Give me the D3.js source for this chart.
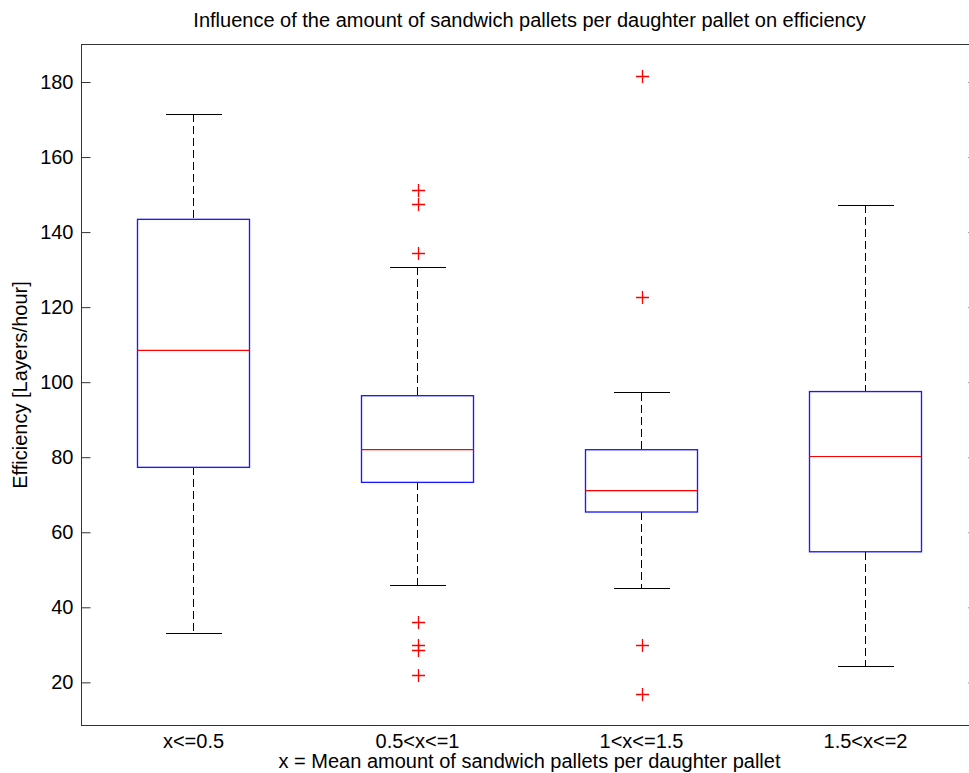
<!DOCTYPE html>
<html>
<head>
<meta charset="utf-8">
<script src="https://cdn.jsdelivr.net/npm/d3@7"></script>
<style>
  body { margin: 0; background: #fff; }
  svg { display: block; font-family: "Liberation Sans", Arial, sans-serif; }
</style>
</head>
<body>
<div class="chart"></div>
<script>
const categories = ['x<=0.5', '0.5<x<=1', '1<x<=1.5', '1.5<x<=2'];
const whiskerLow = [33.1, 45.9, 45.1, 24.3];
const q1 = [77.3, 73.3, 65.4, 54.8];
const medians = [108.5, 82.0, 71.1, 80.2];
const q3 = [143.4, 96.4, 82.0, 97.5];
const whiskerHigh = [171.4, 130.6, 97.2, 147.1];
const outliers = [
  [],
  [151.1, 147.6, 134.4, 36.2, 29.9, 28.5, 21.9],
  [181.7, 122.6, 29.9, 16.8],
  []
];
const yTicks = [20, 40, 60, 80, 100, 120, 140, 160, 180];

const width = 969;
const height = 773;
const fontSize = '20px';

const svg = d3
  .select('.chart')
  .append('svg')
  .attr('width', width)
  .attr('height', height);

const x = d3.scaleLinear().domain([0.5, 4.5]).range([81.5, 977.5]);
const y = d3.scaleLinear().domain([8.5, 190]).range([725.5, 44.5]);

const boxes = categories.map((c, i) => ({
  name: c,
  pos: i + 1,
  lo: whiskerLow[i],
  q1: q1[i],
  med: medians[i],
  q3: q3[i],
  hi: whiskerHigh[i],
  out: outliers[i]
}));

const boxHalf = 0.25;
const capHalf = 0.125;

// axes frame
svg
  .append('rect')
  .attr('x', x(0.5))
  .attr('y', y(190))
  .attr('width', x(4.5) - x(0.5))
  .attr('height', y(8.5) - y(190))
  .attr('fill', 'none')
  .attr('stroke', '#333')
  .attr('shape-rendering', 'crispEdges');

const yAxis = svg
  .append('g')
  .attr('transform', `translate(${x(0.5)},0)`)
  .call(d3.axisLeft(y).tickValues(yTicks).tickSizeInner(-9).tickSizeOuter(0).tickPadding(8));
yAxis.select('.domain').remove();
yAxis.selectAll('line').attr('stroke', '#333');
yAxis
  .selectAll('text')
  .attr('font-size', fontSize)
  .attr('fill', '#000')
  .attr('font-family', '"Liberation Sans", Arial, sans-serif');

const yAxisR = svg
  .append('g')
  .attr('transform', `translate(${x(4.5)},0)`)
  .call(d3.axisRight(y).tickValues(yTicks).tickSizeInner(-9).tickSizeOuter(0).tickFormat(''));
yAxisR.select('.domain').remove();
yAxisR.selectAll('line').attr('stroke', '#333');

const g = svg
  .selectAll('g.box')
  .data(boxes)
  .enter()
  .append('g')
  .attr('class', 'box');

// whiskers
g.append('line')
  .attr('x1', (d) => x(d.pos))
  .attr('x2', (d) => x(d.pos))
  .attr('y1', (d) => y(d.hi))
  .attr('y2', (d) => y(d.q3))
  .attr('stroke', '#000')
  .attr('stroke-dasharray', '8,4')
  .attr('shape-rendering', 'crispEdges');
g.append('line')
  .attr('x1', (d) => x(d.pos))
  .attr('x2', (d) => x(d.pos))
  .attr('y1', (d) => y(d.q1))
  .attr('y2', (d) => y(d.lo))
  .attr('stroke', '#000')
  .attr('stroke-dasharray', '8,4')
  .attr('shape-rendering', 'crispEdges');

// caps
['hi', 'lo'].forEach((k) => {
  g.append('line')
    .attr('x1', (d) => x(d.pos - capHalf))
    .attr('x2', (d) => x(d.pos + capHalf))
    .attr('y1', (d) => y(d[k]))
    .attr('y2', (d) => y(d[k]))
    .attr('stroke', '#000')
    .attr('shape-rendering', 'crispEdges');
});

// boxes
g.append('rect')
  .attr('x', (d) => x(d.pos - boxHalf))
  .attr('width', (d) => x(d.pos + boxHalf) - x(d.pos - boxHalf))
  .attr('y', (d) => y(d.q3))
  .attr('height', (d) => y(d.q1) - y(d.q3))
  .attr('fill', 'none')
  .attr('stroke', '#1a1aff')
  .attr('stroke-width', 1.35);

// medians
g.append('line')
  .attr('x1', (d) => x(d.pos - boxHalf))
  .attr('x2', (d) => x(d.pos + boxHalf))
  .attr('y1', (d) => y(d.med))
  .attr('y2', (d) => y(d.med))
  .attr('stroke', '#ff0000')
  .attr('stroke-width', 1.2);

// outliers
g.selectAll('path.out')
  .data((d) => d.out.map((v) => ({ pos: d.pos, v })))
  .enter()
  .append('path')
  .attr('class', 'out')
  .attr('d', (d) => {
    const cx = Math.round(x(d.pos)) + 0.5;
    const cy = Math.round(y(d.v)) + 0.5;
    return `M${cx - 6.5},${cy}H${cx + 6.5}M${cx},${cy - 6.5}V${cy + 6.5}`;
  })
  .attr('stroke', '#ff0000')
  .attr('stroke-width', 1.3)
  .attr('fill', 'none');

// category labels
svg
  .selectAll('text.cat')
  .data(boxes)
  .enter()
  .append('text')
  .attr('class', 'cat')
  .attr('x', (d) => x(d.pos))
  .attr('y', 748)
  .attr('text-anchor', 'middle')
  .attr('font-size', fontSize)
  .text((d) => d.name);

svg
  .append('text')
  .attr('x', (x(0.5) + x(4.5)) / 2)
  .attr('y', 768)
  .attr('text-anchor', 'middle')
  .attr('font-size', fontSize)
  .text('x = Mean amount of sandwich pallets per daughter pallet');

svg
  .append('text')
  .attr('transform', `translate(27, ${(y(8.5) + y(190)) / 2}) rotate(-90)`)
  .attr('text-anchor', 'middle')
  .attr('font-size', fontSize)
  .text('Efficiency [Layers/hour]');

svg
  .append('text')
  .attr('x', (x(0.5) + x(4.5)) / 2)
  .attr('y', 27)
  .attr('text-anchor', 'middle')
  .attr('font-size', fontSize)
  .text('Influence of the amount of sandwich pallets per daughter pallet on efficiency');
</script>
</body>
</html>
